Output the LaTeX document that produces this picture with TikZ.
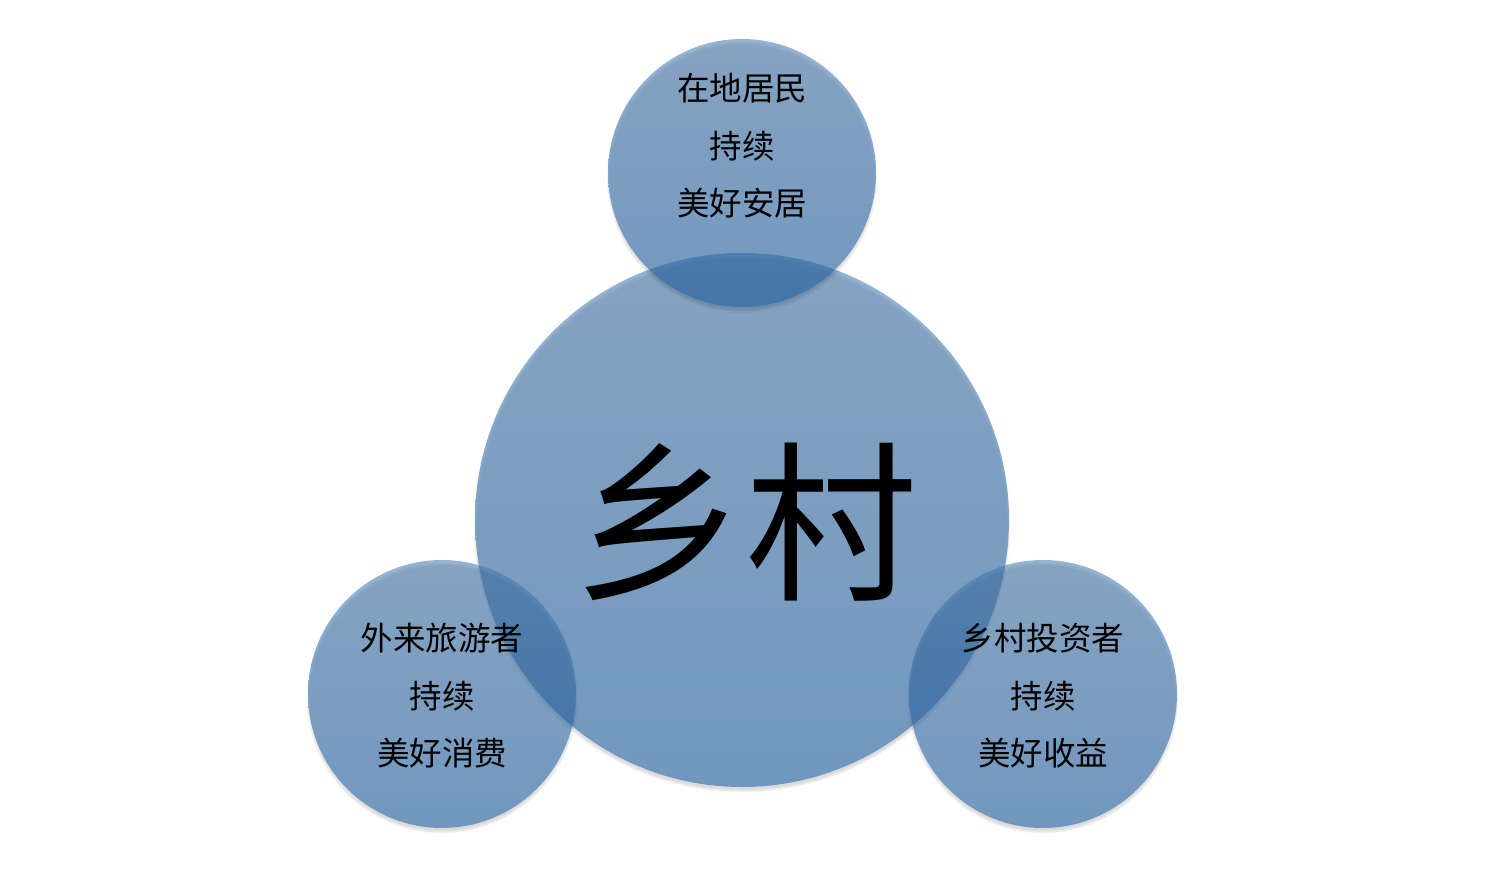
\documentclass[tikz,border=0pt]{standalone}
\usepackage{fontspec}
\newfontfamily\cjk{Noto Sans CJK SC}
\usetikzlibrary{shadows.blur}
\definecolor{bubtop}{RGB}{70,122,175}
\definecolor{bubbot}{RGB}{35,102,172}
\tikzset{
  bubble/.style={circle, draw=none, top color=bubtop, bottom color=bubbot, fill opacity=0.57,
    text opacity=1, blur shadow={shadow blur steps=8, shadow xshift=0pt, shadow yshift=-4pt, shadow opacity=25}},
  small/.style={bubble, minimum size=268pt, inner sep=0pt},
  big/.style={bubble, minimum size=534pt, inner sep=0pt},
  lbl/.style={font=\cjk\fontsize{32.5}{57.5}\selectfont, align=center, text=black},
  biglbl/.style={font=\cjk\fontsize{172}{172}\selectfont, text=black}
}
\begin{document}
\begin{tikzpicture}[x=1pt,y=-1pt]
\useasboundingbox (0,0) rectangle (1485,869);
\node[big] (center) at (742,520) {};
\node[small] (top) at (742,173) {};
\node[small] (left) at (442,694) {};
\node[small] (right) at (1043,694) {};
\node[biglbl] (ctext) at (745,522) {乡村};
\node[lbl] (ttext) at (742,146) {在地居民\\持续\\美好安居};
\node[lbl] (ltext) at (442,696) {外来旅游者\\持续\\美好消费};
\node[lbl] (rtext) at (1043,696) {乡村投资者\\持续\\美好收益};
\end{tikzpicture}
\end{document}
